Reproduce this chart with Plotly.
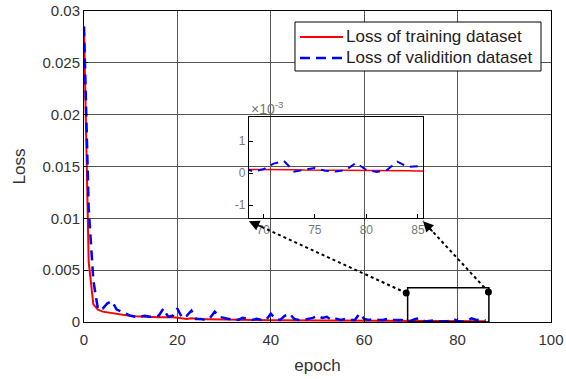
import plotly.graph_objects as go

# Loss curves per epoch
epochs = list(range(0, 87))

train_loss = [
    0.0285, 0.0058, 0.0017, 0.0012, 0.00100, 0.00092, 0.00085, 0.00078, 0.00070, 0.00064,
    0.00058, 0.00055, 0.00052, 0.00050, 0.00048, 0.00046, 0.00046, 0.00047, 0.00048, 0.00045,
    0.00040, 0.00032, 0.00030, 0.00036, 0.00030, 0.00027, 0.00026, 0.00025, 0.00025, 0.00024,
    0.00023, 0.00022, 0.00022, 0.00021, 0.00021, 0.00020, 0.00020, 0.00019, 0.00019, 0.00018,
    0.00018, 0.00018, 0.00017, 0.00017, 0.00017, 0.00016, 0.00016, 0.00016, 0.00015, 0.00015,
    0.00015, 0.00014, 0.00014, 0.00014, 0.00014, 0.00014, 0.00013, 0.00013, 0.00013, 0.00013,
    0.00013, 0.00013, 0.00013, 0.00012, 0.00012, 0.00012, 0.00012, 0.00012, 0.00012, 0.00012,
    0.00012, 0.00011, 0.00011, 0.00011, 0.00010, 0.00010, 0.00010, 0.00010, 0.00009, 0.00009,
    0.00009, 0.00010, 0.00009, 0.00008, 0.00008, 0.00007, 0.00007,
]

val_loss = [
    0.0285, 0.0110, 0.0040, 0.0012, 0.0013, 0.0018, 0.0020, 0.0012, 0.0010, 0.0008,
    0.0006, 0.0005, 0.0005, 0.0006, 0.0005, 0.0005, 0.0006, 0.0013, 0.0005, 0.0006,
    0.0013, 0.0004, 0.0006, 0.0011, 0.0003, 0.0003, 0.0002, 0.0004, 0.0010, 0.0005,
    0.0004, 0.0003, 0.0003, 0.0002, 0.0004, 0.0003, 0.0002, 0.0003, 0.0002, 0.0002,
    0.0008, 0.0003, 0.0002, 0.0006, 0.0008, 0.0003, 0.0002, 0.0002, 0.0003, 0.0004,
    0.0006, 0.0004, 0.0005, 0.0002, 0.0003, 0.0002, 0.0003, 0.0002, 0.0002, 0.0008,
    0.0003, 0.0002, 0.0003, 0.0002, 0.0002, 0.0003, 0.0002, 0.0002, 0.00020, 0.00005,
    0.00012, 0.00030, 0.00038, 0.00005, 0.00010, 0.00016, 0.00008, 0.00005, 0.00010, 0.00032,
    0.00010, 0.00004, 0.00010, 0.00036, 0.00020, 0.00022, 0.00015,
]

train_name = "Loss of training dataset"
val_name = "Loss of validition dataset"

main_xticks = [0, 20, 40, 60, 80, 100]
inset_xticks = [70, 75, 80, 85]
inset_yticks = [-0.001, 0, 0.001]
inset_yticktext = ["-1", "0", "1"]

# zoom window and inset ranges
zoom_x = [69.3, 86.7]
zoom_y = [0, 0.0033]
inset_xrange = [68.6, 85.5]
inset_yrange = [-0.0014, 0.00175]

RED = "#ff0000"
BLUE = "#0000ff"
FONT = "Liberation Sans, Arial, sans-serif"
TICK_COLOR = "#333333"
TRAIN_LINE = dict(color=RED, width=2)
VAL_LINE = dict(color=BLUE, width=2.5, dash="10px,6px")

fig = go.Figure()

fig.add_trace(go.Scatter(x=epochs, y=train_loss, mode="lines", name=train_name, line=TRAIN_LINE))
fig.add_trace(go.Scatter(x=epochs, y=val_loss, mode="lines", name=val_name, line=VAL_LINE))

# inset copies
fig.add_trace(go.Scatter(x=epochs, y=train_loss, mode="lines", name=train_name,
                         xaxis="x2", yaxis="y2", line=dict(color=RED, width=1.5)))
fig.add_trace(go.Scatter(x=epochs, y=val_loss, mode="lines", name=val_name,
                         xaxis="x2", yaxis="y2", line=dict(color=BLUE, width=2, dash="8px,6px")))

# connector geometry (main-axis data coordinates)
x_per_px = 100 / 467
y_per_px = 0.03 / 311
dom_x = [0.353, 0.726]
dom_y = [0.334, 0.659]
head_left = (dom_x[0] * 100, dom_y[0] * 0.03 - 3 * y_per_px)
head_right = (dom_x[1] * 100, dom_y[0] * 0.03 - 3 * y_per_px)
tail_left = (zoom_x[0] - 0.3, zoom_y[1] - 0.0005)
tail_right = (zoom_x[1] - 0.1, zoom_y[1] - 0.0004)

fig.add_trace(go.Scatter(x=[tail_left[0], tail_right[0]], y=[tail_left[1], tail_right[1]],
                         mode="markers", hoverinfo="skip",
                         marker=dict(color="black", size=7)))

shapes = [
    dict(type="rect", xref="x", yref="y", x0=zoom_x[0], x1=zoom_x[1], y0=zoom_y[0], y1=zoom_y[1],
         line=dict(color="black", width=1.5)),
]
annotations = []
for head, tail in [(head_left, tail_left), (head_right, tail_right)]:
    shapes.append(dict(type="line", xref="x", yref="y", x0=tail[0], y0=tail[1], x1=head[0], y1=head[1],
                       line=dict(color="black", width=2, dash="dot")))
    dx = (tail[0] - head[0]) / x_per_px
    dy = (tail[1] - head[1]) / y_per_px
    n = (dx ** 2 + dy ** 2) ** 0.5
    annotations.append(dict(x=head[0], y=head[1], xref="x", yref="y", text="", showarrow=True,
                            ax=dx / n * 16, ay=-dy / n * 16, arrowhead=2, arrowsize=1.4,
                            arrowwidth=1.5, arrowcolor="black"))

annotations.append(dict(x=dom_x[0], y=dom_y[1], xref="paper", yref="paper", xanchor="left",
                        yanchor="bottom", showarrow=False, text="×10<sup>-3</sup>",
                        font=dict(size=14, color="#777777", family=FONT), yshift=-2))

# boxed key in the upper right corner (paper coordinates)
key_box = dict(x0=0.4518, x1=0.9786, y0=0.8071, y1=0.9646)
key_rows = [(0.9164, train_name, TRAIN_LINE), (0.8489, val_name, VAL_LINE)]
key_line_x = [0.4625, 0.5546]
key_text_x = 0.557
shapes.append(dict(type="rect", xref="paper", yref="paper", fillcolor="white",
                   line=dict(color="black", width=1), **key_box))
for ky, label, style in key_rows:
    shapes.append(dict(type="line", xref="paper", yref="paper", x0=key_line_x[0], x1=key_line_x[1],
                       y0=ky, y1=ky, line=style))
    annotations.append(dict(x=key_text_x, y=ky, xref="paper", yref="paper", xanchor="left",
                            yanchor="middle", showarrow=False, text=label,
                            font=dict(size=17, color="#222222", family=FONT)))

axis_common = dict(showline=True, linecolor="black", linewidth=1, mirror=True, automargin=False,
                   ticks="inside", ticklen=4, tickcolor="black", zeroline=False)

fig.update_layout(
    width=566, height=379,
    margin=dict(l=84, r=15, t=11, b=57),
    paper_bgcolor="white", plot_bgcolor="rgba(0,0,0,0)",
    font=dict(family=FONT, color=TICK_COLOR),
    showlegend=False,
    xaxis=dict(range=[0, 100], tickvals=main_xticks, showgrid=True, gridcolor="#555555", gridwidth=1,
               tickfont=dict(size=15, color=TICK_COLOR), ticklabelstandoff=4,
               title=dict(text="epoch", font=dict(size=17), standoff=12),
               **axis_common),
    yaxis=dict(range=[0, 0.03], dtick=0.005, showgrid=True, gridcolor="#555555", gridwidth=1,
               tickfont=dict(size=15, color=TICK_COLOR), title=dict(text="Loss", font=dict(size=17), standoff=12),
               **axis_common),
    xaxis2=dict(domain=dom_x, anchor="y2", range=inset_xrange, tickvals=inset_xticks, showgrid=False,
                tickfont=dict(size=12, color="#777777"), **axis_common),
    yaxis2=dict(domain=dom_y, anchor="x2", range=inset_yrange, tickvals=inset_yticks,
                ticktext=inset_yticktext, showgrid=False,
                tickfont=dict(size=12, color="#777777"), **axis_common),
    shapes=shapes,
    annotations=annotations,
)

fig.write_html("out.html")
